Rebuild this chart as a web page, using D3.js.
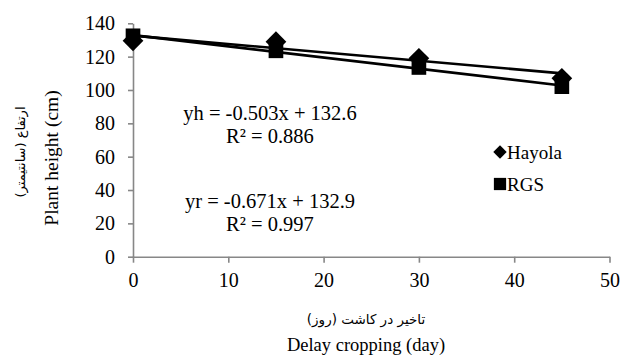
<!DOCTYPE html>
<html>
<head>
<meta charset="utf-8">
<script src="https://cdn.jsdelivr.net/npm/d3@7"></script>
</head>
<body style="margin:0">
<svg id="chart" width="621" height="356"></svg>
<script>
// data
const days = [0, 15, 30, 45];
const hayola = [129.5, 129, 119, 107];
const rgs = [132.5, 123.5, 113.5, 102];
const xTicks = [0, 10, 20, 30, 40, 50];
const yTicks = [0, 20, 40, 60, 80, 100, 120, 140];
// trendline coefficients printed on the chart
const hSlope = -0.503, hIntercept = 132.6, hR2 = 0.886;
const rSlope = -0.671, rIntercept = 132.9, rR2 = 0.997;

const serif = "'Liberation Serif', 'Times New Roman', serif";
const arabic = "'DejaVu Sans', sans-serif";

const svg = d3.select("#chart");
const x = d3.scaleLinear().domain([0, 50]).range([133, 609.5]);
const y = d3.scaleLinear().domain([0, 140]).range([256.7, 23.3]);
const axisColor = "#878787";

// y axis
const yAxis = svg.append("g").attr("transform", "translate(" + x(0) + ",0)")
  .call(d3.axisLeft(y).tickValues(yTicks).tickSize(5).tickPadding(13).tickSizeOuter(0));
// x axis
const xAxis = svg.append("g").attr("transform", "translate(0," + y(0) + ")")
  .call(d3.axisBottom(x).tickValues(xTicks).tickSize(6).tickPadding(10).tickSizeOuter(0));

[yAxis, xAxis].forEach(a => {
  a.attr("font-family", null).attr("font-size", null);
  a.select(".domain").attr("stroke", axisColor).attr("stroke-width", 1.6);
  a.selectAll(".tick line").attr("stroke", axisColor).attr("stroke-width", 1.6);
  a.selectAll(".tick text").attr("fill", "#000")
    .style("font-family", serif).style("font-size", "20px");
});

// trendlines
const trends = [
  {slope: hSlope, b: hIntercept},
  {slope: rSlope, b: rIntercept}
];
svg.selectAll(".trend").data(trends).join("line")
  .attr("class", "trend")
  .attr("x1", x(days[0])).attr("x2", x(days[days.length - 1]))
  .attr("y1", d => y(d.b + d.slope * days[0]))
  .attr("y2", d => y(d.b + d.slope * days[days.length - 1]))
  .attr("stroke", "#000").attr("stroke-width", 2.6);

// markers
const diamond = d3.symbol().type(d3.symbolSquare).size(215);
const square = d3.symbol().type(d3.symbolSquare).size(215);
svg.selectAll(".hay").data(days).join("path")
  .attr("class", "hay")
  .attr("d", diamond)
  .attr("transform", (d, i) => "translate(" + x(d) + "," + y(hayola[i]) + ") rotate(45)")
  .attr("fill", "#000");
svg.selectAll(".rgs").data(days).join("path")
  .attr("class", "rgs")
  .attr("d", square)
  .attr("transform", (d, i) => "translate(" + x(d) + "," + y(rgs[i]) + ")")
  .attr("fill", "#000");

// equations
const eqs = [
  {t: "yh = " + hSlope + "x + " + hIntercept, y: 120},
  {t: "R² = " + hR2, y: 143},
  {t: "yr = " + rSlope + "x + " + rIntercept, y: 208},
  {t: "R² = " + rR2, y: 231}
];
svg.selectAll(".eq").data(eqs).join("text")
  .attr("class", "eq")
  .attr("x", 270).attr("y", d => d.y)
  .attr("text-anchor", "middle")
  .style("font-family", serif)
  .style("font-size", "20.5px")
  .text(d => d.t);

// legend
const legend = [
  {name: "Hayola", size: 90, rot: 45, y: 152},
  {name: "RGS", size: 150, rot: 0, y: 184}
];
const lg = svg.selectAll(".lg").data(legend).join("g").attr("class", "lg")
  .attr("transform", d => "translate(500," + d.y + ")");
lg.append("path")
  .attr("d", d => d3.symbol().type(d3.symbolSquare).size(d.size)())
  .attr("transform", d => "rotate(" + d.rot + ")")
  .attr("fill", "#000");
lg.append("text")
  .attr("x", 7).attr("y", 6.5)
  .style("font-family", serif)
  .style("font-size", "19px")
  .text(d => d.name);

// axis titles
svg.append("text")
  .attr("transform", "translate(58,158) rotate(-90)")
  .attr("text-anchor", "middle")
  .style("font-family", serif)
  .style("font-size", "19.5px")
  .text("Plant height (cm)");
svg.append("text")
  .attr("transform", "translate(25,152) rotate(-90)")
  .attr("text-anchor", "middle")
  .style("font-family", arabic)
  .style("font-size", "13px")
  .attr("direction", "rtl")
  .text("ارتفاع (سانتیمتر)");
svg.append("text")
  .attr("x", 366).attr("y", 324)
  .attr("text-anchor", "middle")
  .style("font-family", arabic)
  .style("font-size", "13.5px")
  .attr("direction", "rtl")
  .text("تاخیر در کاشت (روز)");
svg.append("text")
  .attr("x", 366).attr("y", 351)
  .attr("text-anchor", "middle")
  .style("font-family", serif)
  .style("font-size", "18.5px")
  .text("Delay cropping (day)");
</script>
</body>
</html>
